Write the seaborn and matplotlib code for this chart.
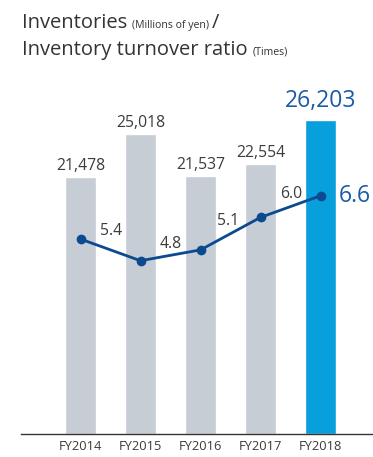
import matplotlib
matplotlib.use("Agg")
import matplotlib.pyplot as plt
import seaborn as sns
import pandas as pd
import numpy as np

# Data
years = ["FY2014", "FY2015", "FY2016", "FY2017", "FY2018"]
inventories = [21478, 25018, 21537, 22554, 26203]       # millions of yen
turnover = [5.4, 4.8, 5.1, 6.0, 6.6]                     # times

sns.set_theme(style="white")
plt.rcParams["font.family"] = ["Open Sans", "DejaVu Sans"]

GRAY_BAR = "#c6cdd4"
BLUE_BAR = "#079fdc"
LINE = "#0b4a90"
HILITE = "#1a5ba6"
TEXT = "#3c3c3c"

df = pd.DataFrame({"year": years, "inv": inventories, "turn": turnover})
df["latest"] = ["past"] * (len(years) - 1) + ["latest"]

fig = plt.figure(figsize=(3.73, 4.57), dpi=100)
ax = fig.add_axes([21 / 373, 1 - 434 / 457, 1 - 21 / 373, 339 / 457])

sns.barplot(data=df, x="year", y="inv", hue="latest",
            palette={"past": GRAY_BAR, "latest": BLUE_BAR},
            width=0.52, dodge=False, legend=False, ax=ax, saturation=1)

ax.set_ylim(0, 28290)
ax.set_xlim(-0.9917, 4.875)
for s in ["top", "right", "left"]:
    ax.spines[s].set_visible(False)
ax.spines["bottom"].set_color("#333333")
ax.spines["bottom"].set_linewidth(1.0)
ax.set_yticks([])
ax.set_xlabel("")
ax.set_ylabel("")
ax.tick_params(axis="x", length=0, pad=4, labelsize=9.3, labelcolor=TEXT)

# Bar value labels
for i, v in enumerate(inventories):
    last = i == len(inventories) - 1
    ax.annotate(f"{v:,}", (i, v), xytext=(0, 5 if last else 2),
                textcoords="offset points", ha="center", va="bottom",
                fontsize=16.5 if last else 11.3,
                color=HILITE if last else TEXT)

# Turnover ratio line on a secondary scale
ax2 = ax.twinx()
sns.lineplot(x=np.arange(len(years)), y=turnover, color=LINE, lw=2,
             marker="o", markersize=7, markeredgewidth=0, ax=ax2)
ax2.set_ylim(0, 339 / 36.1)
ax2.set_xlim(ax.get_xlim())
ax2.set_yticks([])
for s in ax2.spines.values():
    s.set_visible(False)

# Turnover labels sit between the bars, just above the line
label_offsets = [(22, 6), (22, 12), (20, 21), (22, 17)]
for i, v in enumerate(turnover[:-1]):
    dx, dy = label_offsets[i]
    ax2.annotate(f"{v:.1f}", (i, v), xytext=(dx, dy), textcoords="offset points",
                 ha="center", va="center", fontsize=11.3, color=TEXT)
ax2.annotate(f"{turnover[-1]:.1f}", (len(turnover) - 1, turnover[-1]),
             xytext=(13, 0), textcoords="offset points", ha="left", va="center",
             fontsize=16.5, color=HILITE)

# Title made of mixed-size pieces
def text_row(y, pieces):
    x = 22 / 373
    renderer = fig.canvas.get_renderer()
    for s, size in pieces:
        t = fig.text(x, y, s, fontsize=size, color="#333333", va="baseline", ha="left")
        bb = t.get_window_extent(renderer=renderer)
        x += bb.width / fig.bbox.width

text_row(1 - 28 / 457, [("Inventories ", 14.5), ("(Millions of yen) ", 7.6), ("/", 14.5)])
text_row(1 - 55 / 457, [("Inventory turnover ratio ", 14.5), ("(Times)", 7.6)])

fig.savefig("out.png", dpi=100)
